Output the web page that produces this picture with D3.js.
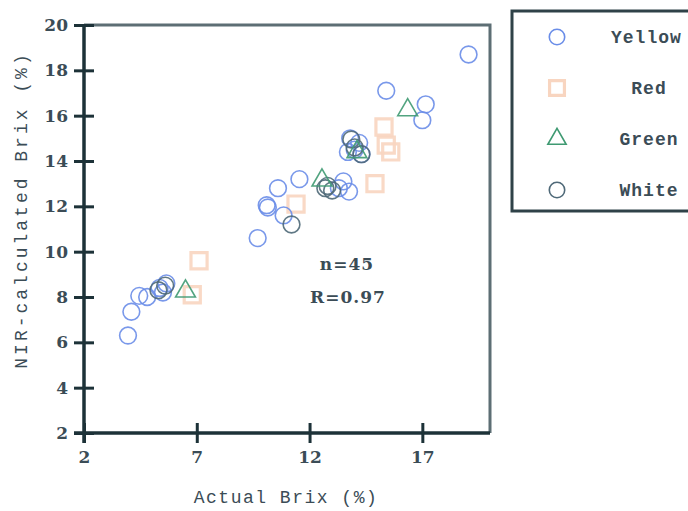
<!DOCTYPE html>
<html>
<head>
<meta charset="utf-8">
<script src="https://cdn.jsdelivr.net/npm/d3@7"></script>
<style>
  body { margin: 0; background: #fff; }
  svg { display: block; }
</style>
</head>
<body>
<div id="chart"></div>
<script>
// --- Data ---
const xTicks = [2, 7, 12, 17];
const yTicks = [2, 4, 6, 8, 10, 12, 14, 16, 18, 20];
const seriesNames = ['Yellow', 'Red', 'Green', 'White'];

const yellowPts = [
  [3.95, 6.3], [4.1, 7.35], [4.45, 8.05], [4.8, 8.0], [5.35, 8.4], [5.65, 8.6], [5.5, 8.2],
  [9.7, 10.6], [10.15, 11.95], [10.1, 12.05], [10.6, 12.8], [11.55, 13.2], [10.85, 11.6],
  [13.5, 13.1], [13.75, 12.65], [13.7, 14.4], [14.0, 14.5], [14.2, 14.8], [13.8, 15.0],
  [14.3, 14.3], [15.4, 17.1], [17.15, 16.5], [17.0, 15.8], [19.05, 18.7], [13.3, 12.8]
];
const redPts = [
  [7.1, 9.6], [6.8, 8.1], [11.4, 12.1], [14.9, 13.0], [15.4, 14.7], [15.3, 15.5], [15.6, 14.4]
];
const greenPts = [
  [6.5, 8.25], [12.55, 13.15], [16.35, 16.25], [14.1, 14.4]
];
const whitePts = [
  [11.2, 11.2], [12.7, 12.8], [13.0, 12.7], [12.8, 12.9], [14.0, 14.6], [13.85, 14.95],
  [5.3, 8.3], [5.6, 8.5], [14.3, 14.3]
];
const statLines = ['n=45', 'R=0.97'];

const W = 688, H = 511;
const svg = d3.select('#chart').append('svg').attr('width', W).attr('height', H);

const x = d3.scaleLinear().domain([2, 20]).range([84, 490]);
const y = d3.scaleLinear().domain([2, 20]).range([433, 25]);

const textCol = '#3b4c56';
const axisCol = '#1d3238';

// frame (top / right)
svg.append('path')
  .attr('d', `M${x(2)},${y(20)}H${x(20)}V${y(2)}`)
  .attr('fill', 'none').attr('stroke', '#5d6e74').attr('stroke-width', 3);

// --- Axes ---
const yAxis = svg.append('g')
  .attr('transform', `translate(${x(2)},0)`)
  .call(d3.axisLeft(y).tickValues(yTicks).tickSizeInner(10).tickSizeOuter(0).tickPadding(6));
yAxis.selectAll('line').attr('x1', 10).attr('stroke', axisCol).attr('stroke-width', 3);
yAxis.select('.domain').attr('stroke', axisCol).attr('stroke-width', 3.5)
  .attr('d', `M0,${y(20)}V${y(2) + 10}`);
yAxis.selectAll('text')
  .attr('fill', textCol)
  .style('font-family', '"DejaVu Serif", serif')
  .style('font-weight', 'bold')
  .style('font-size', '17px');

const xAxis = svg.append('g')
  .attr('transform', `translate(0,${y(2)})`)
  .call(d3.axisBottom(x).tickValues(xTicks).tickSizeInner(10).tickSizeOuter(0).tickPadding(8));
xAxis.selectAll('line').attr('y1', -10).attr('stroke', axisCol).attr('stroke-width', 3);
xAxis.select('.domain').attr('stroke', axisCol).attr('stroke-width', 3.5)
  .attr('d', `M${x(2) - 10},0H${x(20)}`);
xAxis.selectAll('text')
  .attr('fill', textCol)
  .style('font-family', '"DejaVu Serif", serif')
  .style('font-weight', 'bold')
  .style('font-size', '17px');

// axis titles
svg.append('text')
  .attr('x', 286).attr('y', 503)
  .attr('text-anchor', 'middle')
  .attr('fill', textCol)
  .style('font-family', '"Liberation Mono", monospace')
  .style('font-size', '18px')
  .style('letter-spacing', '1.5px')
  .text('Actual Brix (%)');

svg.append('text')
  .attr('transform', 'translate(27,210) rotate(-90)')
  .attr('text-anchor', 'middle')
  .attr('fill', textCol)
  .style('font-family', '"Liberation Mono", monospace')
  .style('font-size', '18px')
  .style('letter-spacing', '3px')
  .text('NIR-calculated Brix (%)');

// --- Markers ---
const sym = {
  Yellow: { type: d3.symbolCircle, size: 220, stroke: '#6a8de8', fill: 'none', w: 1.6 },
  Red: { type: d3.symbolSquare, size: 260, stroke: '#f8d5c0', fill: 'none', w: 3.2 },
  Green: { type: d3.symbolTriangle, size: 170, stroke: '#3f9a72', fill: 'none', w: 1.6 },
  White: { type: d3.symbolCircle, size: 220, stroke: '#4f6978', fill: 'none', w: 1.6 }
};
const seriesData = { Yellow: yellowPts, Red: redPts, Green: greenPts, White: whitePts };

['Red', 'Yellow', 'White', 'Green'].forEach(name => {
  const s = sym[name];
  svg.append('g').selectAll('path')
    .data(seriesData[name])
    .enter().append('path')
    .attr('transform', d => `translate(${x(d[0])},${y(d[1])})`)
    .attr('d', d3.symbol().type(s.type).size(s.size))
    .attr('fill', s.fill)
    .attr('stroke', s.stroke)
    .attr('stroke-width', s.w)
    .attr('stroke-opacity', 0.9);
});

// stats text
svg.selectAll('.stat')
  .data(statLines)
  .enter().append('text')
  .attr('class', 'stat')
  .attr('x', (d, i) => i === 0 ? 347 : 348)
  .attr('y', (d, i) => 270 + i * 33)
  .attr('text-anchor', 'middle')
  .attr('fill', textCol)
  .style('font-family', '"DejaVu Serif", serif')
  .style('font-weight', 'bold')
  .style('font-size', '17px')
  .style('letter-spacing', '1px')
  .text(d => d);

// --- Legend ---
const legend = svg.append('g');
legend.append('rect')
  .attr('x', 512).attr('y', 11).attr('width', 200).attr('height', 200)
  .attr('fill', '#fff').attr('stroke', '#2f4248').attr('stroke-width', 3);

seriesNames.forEach((name, i) => {
  const s = sym[name];
  const ly = 37 + i * 51;
  legend.append('path')
    .attr('transform', `translate(557,${ly})`)
    .attr('d', d3.symbol().type(s.type).size(s.size * 0.85))
    .attr('fill', 'none')
    .attr('stroke', s.stroke)
    .attr('stroke-width', s.w);
  legend.append('text')
    .attr('x', name === 'Yellow' ? 611 : 649)
    .attr('y', ly + 6)
    .attr('text-anchor', name === 'Yellow' ? 'start' : 'middle')
    .attr('fill', textCol)
    .style('font-family', '"Liberation Mono", monospace')
    .style('font-size', '18px')
    .style('font-weight', 'bold')
    .style('letter-spacing', '1px')
    .text(name);
});
</script>
</body>
</html>
